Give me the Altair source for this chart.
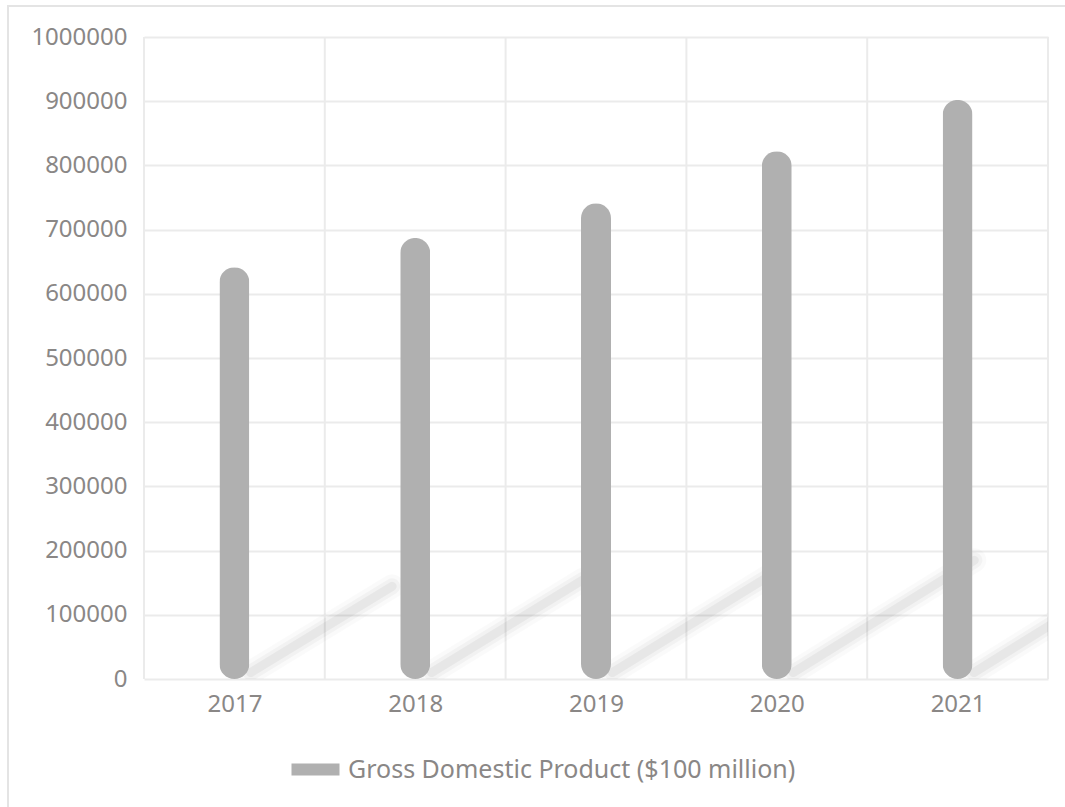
import altair as alt
import pandas as pd

years = [2017, 2018, 2019, 2020, 2021]
gdp = [641500, 687000, 741000, 822000, 902000]
series_name = "Gross Domestic Product ($100 million)"
y_ticks = [0, 100000, 200000, 300000, 400000, 500000, 600000, 700000, 800000, 900000, 1000000]

df = pd.DataFrame({"year": years, "value": gdp, "series": [series_name] * len(years)})
bounds = pd.DataFrame({"b": [y - 0.5 for y in years] + [years[-1] + 0.5]})

FONT = "Noto Sans"
TXT = "#8a8786"
GRID = "#ebebeb"

xscale = alt.Scale(domain=[years[0] - 0.5, years[-1] + 0.5], nice=False, zero=False, padding=0)
yscale = alt.Scale(domain=[0, 1000000], nice=False)

xaxis = alt.Axis(values=years, format="d", grid=False, ticks=False, domain=False,
                 labelFontSize=24, labelColor=TXT, labelFont=FONT, labelPadding=13)
yaxis = alt.Axis(values=y_ticks, format="d", grid=True, gridColor=GRID, gridWidth=2,
                 ticks=False, domain=False, labelFontSize=24, labelColor=TXT,
                 labelFont=FONT, labelPadding=17)

frame = alt.Chart(df).mark_rect(filled=False, stroke="#e4e4e4", strokeWidth=2, clip=False).encode(
    x=alt.value(-136), y=alt.value(-31), x2=alt.value(940), y2=alt.value(790)
)

vgrid = alt.Chart(bounds).mark_rule(color=GRID, strokeWidth=2).encode(
    x=alt.X("b:Q", scale=xscale, title=None, axis=xaxis)
)

shadow_base = alt.Chart(df).transform_calculate(
    x0="datum.year + 0.09",
    x1="datum.year + 0.09 + 1.22 * datum.value / 1000000",
    y0="10000",
    y1="0.225 * datum.value",
)

def shadow(width, op):
    return shadow_base.mark_rule(color="#000000", strokeWidth=width, opacity=op, strokeCap="round", clip=True).encode(
        x=alt.X("x0:Q", scale=xscale, title=None, axis=xaxis),
        x2="x1:Q",
        y=alt.Y("y0:Q", scale=yscale, title=None, axis=yaxis),
        y2="y1:Q",
    )

shadows = shadow(24, 0.02) + shadow(16, 0.03) + shadow(9, 0.045)

bars = alt.Chart(df).mark_bar(size=30, cornerRadius=15).encode(
    x=alt.X("year:Q", scale=xscale, title=None, axis=xaxis),
    y=alt.Y("value:Q", scale=yscale, title=None, axis=yaxis),
    color=alt.Color("series:N", scale=alt.Scale(range=["#b0b0b0"]),
                    legend=alt.Legend(orient="none", legendX=177, legendY=720, title=None,
                                      symbolType="M-7,-1H1V1H-7Z", symbolSize=144,
                                      symbolStrokeWidth=0, symbolOpacity=1,
                                      labelFontSize=25, labelColor=TXT, labelFont=FONT,
                                      labelOffset=2, labelLimit=0)),
)

chart = alt.layer(frame, vgrid, shadows, bars).properties(
    width=904, height=642,
    autosize=alt.AutoSizeParams(type="none"),
    padding={"left": 144, "top": 37, "right": 17, "bottom": 128},
    background="white",
).configure_view(stroke=None)

chart.save("out.html", embed_options={"renderer": "svg", "actions": False})
